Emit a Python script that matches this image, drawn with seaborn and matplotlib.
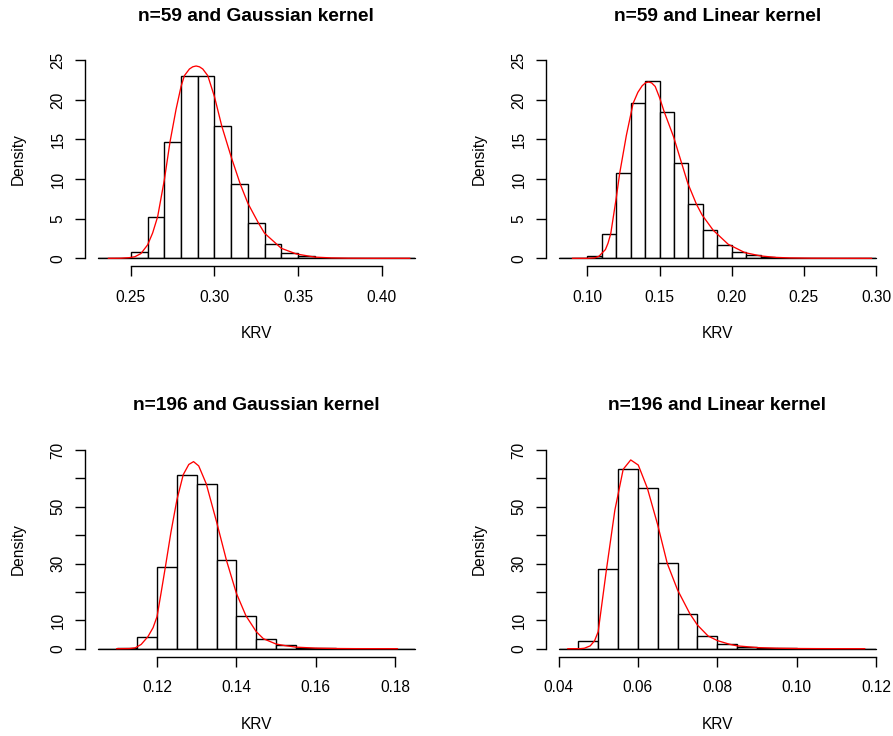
import matplotlib
matplotlib.use("Agg")
import matplotlib.pyplot as plt
import seaborn as sns

# ---------------- data ----------------
titles = ["n=59 and Gaussian kernel", "n=59 and Linear kernel",
          "n=196 and Gaussian kernel", "n=196 and Linear kernel"]

# panel 1: n=59, Gaussian kernel
p1_edges = [0.23, 0.24, 0.25, 0.26, 0.27, 0.28, 0.29, 0.30, 0.31, 0.32,
            0.33, 0.34, 0.35, 0.36, 0.37, 0.38, 0.39, 0.40, 0.41, 0.42]
p1_dens = [0.01, 0.05, 0.84, 5.26, 14.73, 23.06, 23.06, 16.67, 9.39, 4.42,
           1.85, 0.72, 0.25, 0.08, 0.03, 0.01, 0.01, 0.0, 0.01]
p1_cx = [0.2364, 0.2440, 0.2490, 0.2524, 0.2560, 0.2600, 0.2630, 0.2660, 0.2700,
         0.2734, 0.2770, 0.2800, 0.2820, 0.2850, 0.2870, 0.2890, 0.2910, 0.2930,
         0.2960, 0.3000, 0.3044, 0.3100, 0.3154, 0.3200, 0.3264, 0.3300, 0.3400,
         0.3490, 0.3600, 0.3700, 0.3800, 0.3950, 0.4170]
p1_cy = [0.0, 0.01, 0.08, 0.2, 0.6, 1.7, 3.2, 5.26, 9.9,
         14.7, 18.8, 21.7, 23.06, 23.9, 24.18, 24.28, 24.18, 23.9,
         23.06, 20.4, 16.67, 12.8, 9.39, 6.94, 4.42, 3.16, 1.26,
         0.55, 0.15, 0.05, 0.015, 0.003, 0.0]

# panel 2: n=59, Linear kernel
p2_edges = [0.08, 0.09, 0.10, 0.11, 0.12, 0.13, 0.14, 0.15, 0.16, 0.17, 0.18,
            0.19, 0.20, 0.21, 0.22, 0.23, 0.24, 0.25, 0.26, 0.27, 0.28, 0.29, 0.30]
p2_dens = [0.0, 0.01, 0.32, 3.09, 10.72, 19.55, 22.4, 18.5, 12.08, 6.81, 3.54,
           1.72, 0.76, 0.36, 0.16, 0.07, 0.03, 0.02, 0.01, 0.01, 0.0, 0.01]
p2_cx = [0.0896, 0.1000, 0.1051, 0.1080, 0.1100, 0.1125, 0.1143, 0.1162, 0.1200,
         0.1224, 0.1270, 0.1317, 0.1350, 0.1380, 0.1405, 0.1425, 0.1445, 0.1470,
         0.1500, 0.1532, 0.1597, 0.1652, 0.1696, 0.1756, 0.1795, 0.1872, 0.1976,
         0.2091, 0.2200, 0.2300, 0.2400, 0.2550, 0.2750, 0.2970]
p2_cy = [0.0, 0.0, 0.05, 0.25, 0.63, 1.1, 1.9, 3.11, 7.6,
         10.73, 15.5, 19.57, 20.96, 21.79, 22.18, 22.26, 22.15, 21.7,
         20.3, 18.52, 15.36, 12.08, 9.47, 6.82, 5.47, 3.54, 1.77,
         0.72, 0.3, 0.12, 0.05, 0.015, 0.003, 0.0]

# panel 3: n=196, Gaussian kernel
p3_edges = [0.105, 0.110, 0.115, 0.120, 0.125, 0.130, 0.135, 0.140, 0.145,
            0.150, 0.155, 0.160, 0.165, 0.170, 0.175, 0.180, 0.185]
p3_dens = [0.0, 0.15, 4.23, 28.77, 61.3, 58.1, 31.1, 11.6, 3.52,
           1.17, 0.4, 0.15, 0.06, 0.03, 0.01, 0.01]
p3_cx = [0.1098, 0.1130, 0.1145, 0.1160, 0.1177, 0.1190, 0.1200, 0.1210, 0.1221,
         0.1235, 0.1250, 0.1266, 0.1280, 0.1292, 0.1305, 0.1324, 0.1350, 0.1375,
         0.1400, 0.1424, 0.1450, 0.1468, 0.1500, 0.1522, 0.1550, 0.1600, 0.1650,
         0.1700, 0.1806]
p3_cy = [0.0, 0.05, 0.3, 1.5, 4.23, 7.4, 11.3, 19.5, 28.77,
         41.0, 52.4, 61.3, 64.9, 65.9, 64.4, 58.1, 44.7, 31.1,
         19.5, 11.6, 6.0, 3.52, 1.64, 1.1, 0.55, 0.2, 0.07,
         0.02, 0.0]

# panel 4: n=196, Linear kernel
p4_edges = [0.040, 0.045, 0.050, 0.055, 0.060, 0.065, 0.070, 0.075, 0.080,
            0.085, 0.090, 0.095, 0.100, 0.105, 0.110, 0.115, 0.120]
p4_dens = [0.02, 2.82, 28.07, 63.2, 56.5, 30.06, 12.33, 4.46, 1.5,
           0.65, 0.25, 0.12, 0.05, 0.02, 0.01, 0.01]
p4_cx = [0.0423, 0.0455, 0.0465, 0.0480, 0.0491, 0.0500, 0.0521, 0.0542, 0.0563,
         0.0582, 0.0601, 0.0624, 0.0650, 0.0674, 0.0700, 0.0731, 0.0750, 0.0777,
         0.0801, 0.0832, 0.0850, 0.0900, 0.0950, 0.1000, 0.1050, 0.1100, 0.1172]
p4_cy = [0.0, 0.02, 0.15, 1.0, 2.82, 6.0, 28.07, 48.8, 63.2,
         66.5, 64.7, 56.5, 43.6, 30.06, 20.7, 12.33, 8.34, 4.46,
         2.82, 1.53, 1.0, 0.4, 0.17, 0.07, 0.03, 0.01, 0.0]

p1_xticks = [0.25, 0.30, 0.35, 0.40]
p2_xticks = [0.10, 0.15, 0.20, 0.25, 0.30]
p3_xticks = [0.12, 0.14, 0.16, 0.18]
p4_xticks = [0.04, 0.06, 0.08, 0.10, 0.12]
top_yticks = [0, 5, 10, 15, 20, 25]
top_ylabels = ["0", "5", "10", "15", "20", "25"]
bot_yticks = [0, 10, 20, 30, 40, 50, 60, 70]
bot_ylabels = ["0", "10", "", "30", "", "50", "", "70"]

# ---------------- style ----------------
sns.set_style("ticks")
plt.rcParams["font.family"] = ["Liberation Sans", "DejaVu Sans"]
plt.rcParams["text.color"] = "black"
plt.rcParams["axes.labelcolor"] = "black"
plt.rcParams["xtick.color"] = "black"
plt.rcParams["ytick.color"] = "black"
plt.rcParams["axes.edgecolor"] = "black"

W, H = 893, 736
fig = plt.figure(figsize=(W / 100, H / 100), dpi=100)

PX2PT = 72 / 100.0


def make_axes(left_px, top_px, width_px, height_px):
    return fig.add_axes([left_px / W, 1 - (top_px + height_px) / H,
                         width_px / W, height_px / H])


panels = [
    dict(edges=p1_edges, dens=p1_dens, cx=p1_cx, cy=p1_cy, title=titles[0],
         xt=p1_xticks, yt=top_yticks, yl=top_ylabels,
         box=(97.5, 60.3, 317.5, 198.0), ylim=(0, 25)),
    dict(edges=p2_edges, dens=p2_dens, cx=p2_cx, cy=p2_cy, title=titles[1],
         xt=p2_xticks, yt=top_yticks, yl=top_ylabels,
         box=(558.5, 60.3, 317.5, 198.0), ylim=(0, 25)),
    dict(edges=p3_edges, dens=p3_dens, cx=p3_cx, cy=p3_cy, title=titles[2],
         xt=p3_xticks, yt=bot_yticks, yl=bot_ylabels,
         box=(97.5, 450.0, 317.5, 198.7), ylim=(0, 70)),
    dict(edges=p4_edges, dens=p4_dens, cx=p4_cx, cy=p4_cy, title=titles[3],
         xt=p4_xticks, yt=bot_yticks, yl=bot_ylabels,
         box=(558.5, 450.0, 317.5, 198.7), ylim=(0, 70)),
]

for p in panels:
    ax = make_axes(*p["box"])
    edges = p["edges"]
    centers = [(a + b) / 2 for a, b in zip(edges[:-1], edges[1:])]
    sns.histplot(x=centers, weights=p["dens"], bins=edges, stat="count",
                 ax=ax, color="white", edgecolor="black", linewidth=1.0,
                 alpha=1.0, zorder=2)
    ax.axhline(0, color="black", linewidth=1.0, clip_on=False, zorder=3)
    sns.lineplot(x=p["cx"], y=p["cy"], ax=ax, color="red", linewidth=0.95)
    for ln in ax.get_lines():
        if ln.get_color() == "red":
            ln.set_zorder(5)
            ln.set_clip_on(False)

    ax.set_xlim(edges[0], edges[-1])
    ax.set_ylim(*p["ylim"])

    for s in ["top", "right"]:
        ax.spines[s].set_visible(False)
    ax.spines["left"].set_position(("outward", 12.4 * PX2PT))
    ax.spines["bottom"].set_position(("outward", 7.8 * PX2PT))
    ax.spines["left"].set_bounds(p["yt"][0], p["yt"][-1])
    ax.spines["bottom"].set_bounds(p["xt"][0], p["xt"][-1])
    for s in ["left", "bottom"]:
        ax.spines[s].set_linewidth(1.0)
        ax.spines[s].set_color("black")

    ax.set_xticks(p["xt"], [f"{v:.2f}" for v in p["xt"]])
    ax.set_yticks(p["yt"], p["yl"], rotation=90, va="center")
    ax.tick_params(axis="both", which="major", direction="out",
                   length=10 * PX2PT, width=1.0, colors="black",
                   labelsize=11.2, bottom=True, left=True)
    ax.tick_params(axis="x", pad=14 * PX2PT)
    ax.tick_params(axis="y", pad=9.7 * PX2PT)

    ax.set_xlabel("KRV", fontsize=11.2, va="baseline", color="black")
    ax.xaxis.set_label_coords(0.5, -0.404)
    ax.set_ylabel("Density", fontsize=11.2, va="center", color="black")
    ax.yaxis.set_label_coords(-0.2494, 0.5)

    ax.text(0.5, 1.2, p["title"], transform=ax.transAxes, ha="center",
            va="baseline", fontsize=13.8, fontweight="bold", color="black")

fig.savefig("out.png", dpi=100, facecolor="white")
